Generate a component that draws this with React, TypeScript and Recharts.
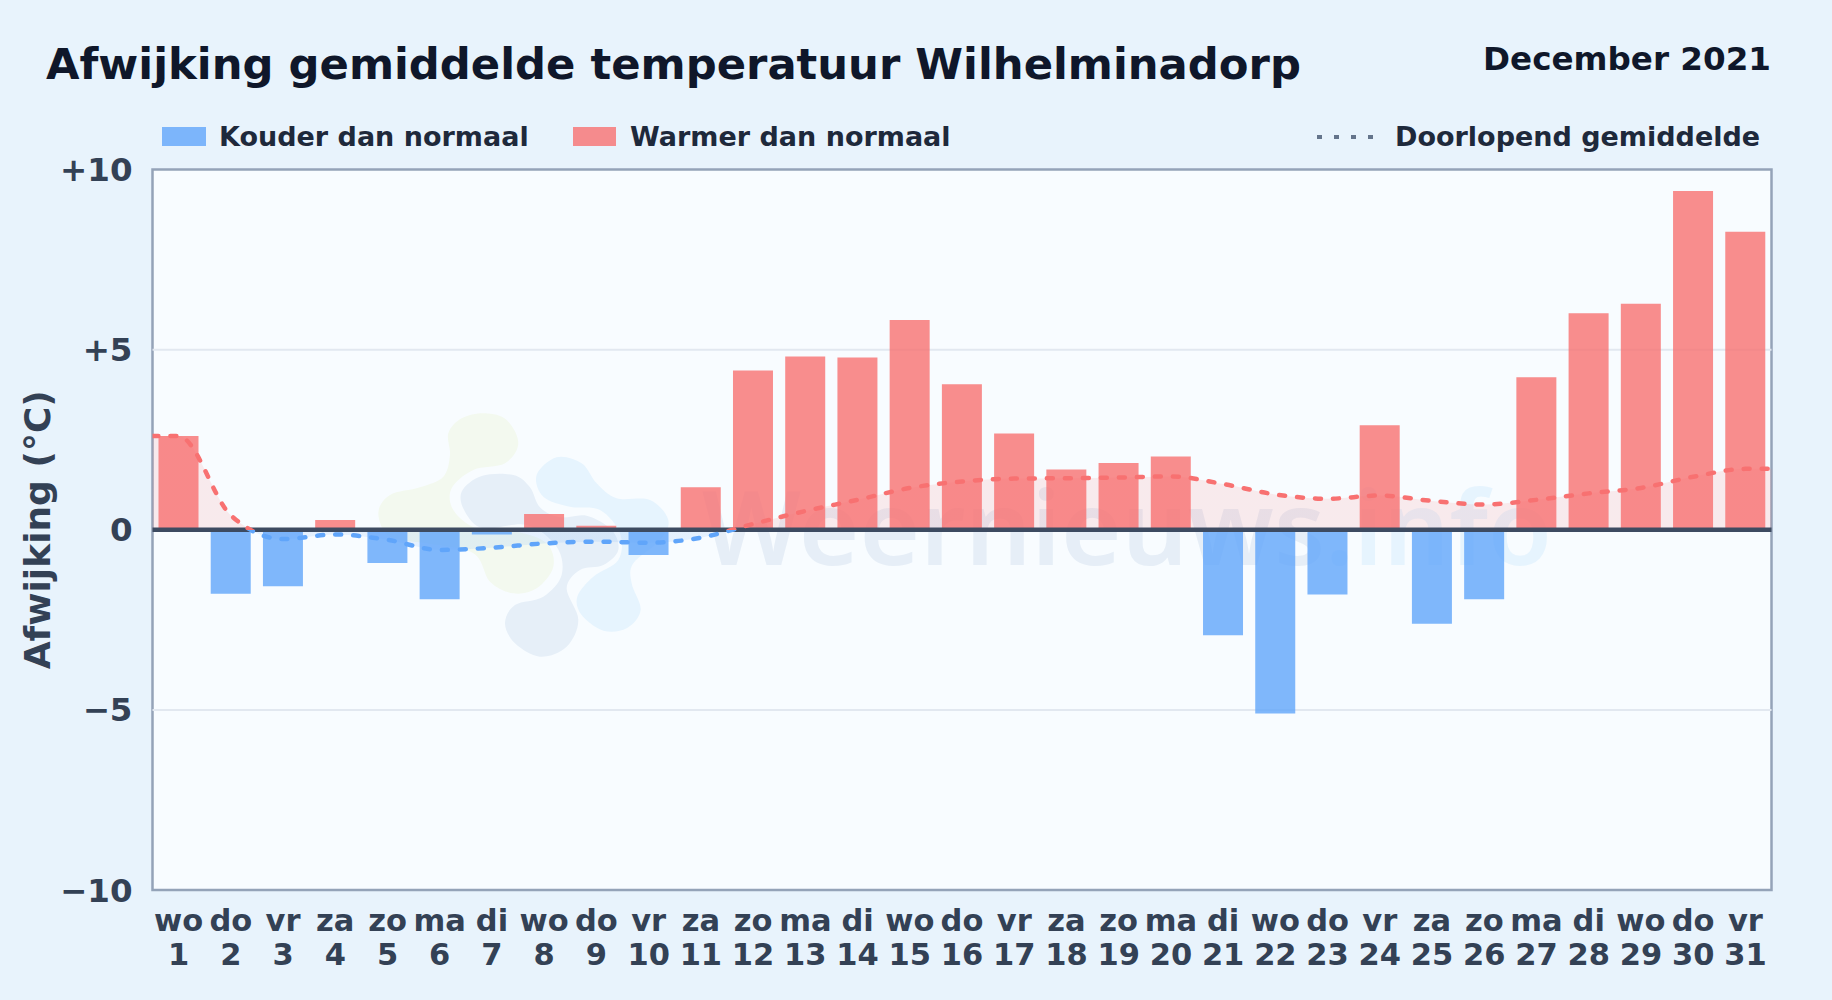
import React from 'react';
import {
  ComposedChart,
  Bar,
  Line,
  Area,
  Cell,
  XAxis,
  YAxis,
  CartesianGrid,
  ReferenceLine,
} from 'recharts';

const WEEKDAYS = [
  'wo', 'do', 'vr', 'za', 'zo', 'ma', 'di', 'wo', 'do', 'vr', 'za', 'zo', 'ma', 'di', 'wo', 'do',
  'vr', 'za', 'zo', 'ma', 'di', 'wo', 'do', 'vr', 'za', 'zo', 'ma', 'di', 'wo', 'do', 'vr',
];
const DAYS = [
  1, 2, 3, 4, 5, 6, 7, 8, 9, 10, 11, 12, 13, 14, 15, 16, 17, 18, 19, 20, 21, 22, 23, 24, 25, 26,
  27, 28, 29, 30, 31,
];
const DEVIATION = [
  2.6, -1.78, -1.57, 0.27, -0.92, -1.93, -0.13, 0.44, 0.11, -0.7, 1.18, 4.42, 4.81, 4.78, 5.82,
  4.04, 2.67, 1.67, 1.85, 2.03, -2.93, -5.1, -1.8, 2.9, -2.61, -1.93, 4.23, 6.01, 6.27, 9.4, 8.27,
];
const RUNNING_MEAN = [
  2.6, 0.4, -0.26, -0.13, -0.28, -0.56, -0.5, -0.38, -0.33, -0.36, -0.22, 0.16, 0.52, 0.83, 1.16,
  1.34, 1.42, 1.43, 1.45, 1.48, 1.27, 0.98, 0.86, 0.95, 0.8, 0.7, 0.83, 1.01, 1.16, 1.47, 1.69,
];
const Y_TICKS = [-10, -5, 0, 5, 10];

// the mean line runs on to both plot edges: one extra row each side, clipped by the axis domain
const rows = [
  { day: 0, mean: RUNNING_MEAN[0] },
  ...DAYS.map((day, i) => ({ day, dev: DEVIATION[i], mean: RUNNING_MEAN[i] })),
  { day: 32, mean: RUNNING_MEAN[30] },
];

const RED = '#f87171';
const BLUE = '#60a5fa';
const FONT = '"DejaVu Sans", sans-serif';

// red above zero, blue below: hard stop at the zero crossing of the mean line
const meanMax = Math.max(...RUNNING_MEAN);
const meanMin = Math.min(...RUNNING_MEAN);
const zeroAt = meanMax / (meanMax - meanMin);

const formatY = (v: number) => (v > 0 ? `+${v}` : v < 0 ? `\u2212${-v}` : '0');

function DayTick({ x, y, payload }: any) {
  const day = payload.value as number;
  return (
    <text x={x} textAnchor="middle" fontFamily={FONT} fontWeight={700} fontSize={30.5} fill="#334155">
      <tspan x={x} y={y + 33}>{WEEKDAYS[day - 1]}</tspan>
      <tspan x={x} y={y + 67}>{day}</tspan>
    </text>
  );
}

// closed smooth outline through the points (watermark logo only)
function blob(pts: number[][]) {
  const n = pts.length;
  let d = `M${pts[0][0]},${pts[0][1]}`;
  for (let i = 0; i < n; i++) {
    const [p0, p1, p2, p3] = [pts[(i + n - 1) % n], pts[i], pts[(i + 1) % n], pts[(i + 2) % n]];
    d += `C${p1[0] + (p2[0] - p0[0]) / 6},${p1[1] + (p2[1] - p0[1]) / 6} ${p2[0] - (p3[0] - p1[0]) / 6},${p2[1] - (p3[1] - p1[1]) / 6} ${p2[0]},${p2[1]}`;
  }
  return d + 'Z';
}

const LOGO_GREEN = [
  [235, 100], [275, 55], [345, 40], [410, 60], [445, 130], [405, 190], [310, 210], [245, 265],
  [250, 330], [320, 385], [440, 395], [530, 430], [550, 500], [500, 565], [430, 580], [360, 545],
  [310, 460], [170, 430], [60, 410], [25, 340], [60, 285], [150, 262], [220, 230], [240, 165],
];
const LOGO_SLATE = [
  [275, 275], [335, 228], [430, 225], [480, 262], [510, 322], [570, 352], [650, 347], [725, 390],
  [745, 450], [700, 495], [630, 510], [590, 565], [625, 660], [590, 740], [510, 770], [435, 730],
  [405, 670], [435, 615], [520, 590], [575, 525], [560, 440], [470, 375], [340, 385], [285, 335],
];
const LOGO_BLUE = [
  [500, 225], [560, 172], [635, 190], [680, 250], [740, 295], [840, 300], [895, 360], [870, 420],
  [790, 490], [785, 550], [812, 630], [770, 685], [700, 692], [635, 645], [622, 590], [670, 530],
  [745, 480], [750, 400], [690, 330], [600, 320], [520, 290],
];

function Backdrop() {
  const label = { fontFamily: FONT, fontWeight: 700, fontSize: 27, fill: '#1e293b' };
  return (
    <svg width={1832} height={1000} style={{ position: 'absolute', left: 0, top: 0 }}>
      <rect width={1832} height={1000} fill="#e8f3fc" />
      <text x={46} y={79} fontFamily={FONT} fontWeight={700} fontSize={43.3} fill="#0f172a">
        Afwijking gemiddelde temperatuur Wilhelminadorp
      </text>
      <text x={1771} y={70} textAnchor="end" fontFamily={FONT} fontWeight={700} fontSize={32.6} fill="#0f172a">
        December 2021
      </text>

      <rect x={162} y={127} width={44} height={19} fill={BLUE} fillOpacity={0.8} />
      <text x={219} y={146} {...label}>Kouder dan normaal</text>
      <rect x={573} y={127} width={43} height={19} fill={RED} fillOpacity={0.8} />
      <text x={630} y={146} {...label}>Warmer dan normaal</text>
      <line x1={1317} x2={1375} y1={137} y2={137} stroke="#64748b" strokeWidth={4} strokeDasharray="5 12" />
      <text x={1395} y={146} {...label}>Doorlopend gemiddelde</text>

      <rect x={152.5} y={169.5} width={1619} height={720.5} fill="#f8fcff" stroke="#94a3b8" strokeWidth={2.5} />
      <g transform="translate(370,400) scale(0.3333)">
        <path d={blob(LOGO_GREEN)} fill="#f3f9ef" />
        <path d={blob(LOGO_SLATE)} fill="#e6eff8" />
        <path d={blob(LOGO_BLUE)} fill="#e6f4fe" />
      </g>
      <text x={702} y={565} fontFamily="'Noto Sans', sans-serif" fontWeight={600} fontSize={103.8}>
        <tspan fill="#e6eef7">Weernieuws</tspan>
        <tspan fill="#e6f4fe">.info</tspan>
      </text>
    </svg>
  );
}

export default function App() {
  return (
    <div style={{ position: 'absolute', left: 0, top: 0, width: 1832, height: 1000, overflow: 'hidden' }}>
      <Backdrop />
      <div style={{ position: 'absolute', left: 0, top: 0 }}>
        <ComposedChart
          width={1832}
          height={1000}
          data={rows}
          margin={{ top: 169.5, right: 60.5, bottom: 10, left: 52.5 }}
        >
          <defs>
            <linearGradient id="meanStroke" x1="0" y1="0" x2="0" y2="1">
              <stop offset={zeroAt} stopColor={RED} />
              <stop offset={zeroAt} stopColor={BLUE} />
            </linearGradient>
          </defs>
          <CartesianGrid vertical={false} horizontalValues={[-5, 5]} stroke="#e2e8f0" strokeWidth={2} />
          <XAxis
            type="number"
            dataKey="day"
            domain={[0.5, 31.5]}
            allowDataOverflow
            ticks={DAYS}
            interval={0}
            height={100}
            axisLine={false}
            tickLine={false}
            tick={<DayTick />}
          />
          <YAxis
            type="number"
            domain={[-10, 10]}
            ticks={Y_TICKS}
            width={100}
            axisLine={false}
            tickLine={false}
            tickSize={0}
            tickMargin={20}
            tickFormatter={formatY}
            tick={{ fontFamily: FONT, fontWeight: 700, fontSize: 32.5, fill: '#334155' }}
            label={{
              value: 'Afwijking (°C)',
              angle: -90,
              position: 'insideLeft',
              offset: -15,
              style: { fontFamily: FONT, fontWeight: 700, fontSize: 36, fill: '#334155', textAnchor: 'middle' },
            }}
          />
          <Area
            type="monotone"
            dataKey="mean"
            stroke="none"
            fill="url(#meanStroke)"
            fillOpacity={0.13}
            isAnimationActive={false}
          />
          <Bar dataKey="dev" barSize={40} isAnimationActive={false}>
            {rows.map((r) => (
              <Cell key={r.day} fill={(r.dev ?? 0) < 0 ? BLUE : RED} fillOpacity={0.8} />
            ))}
          </Bar>
          <ReferenceLine y={0} stroke="#3d4b61" strokeWidth={4.5} />
          <Line
            type="monotone"
            dataKey="mean"
            stroke="url(#meanStroke)"
            strokeWidth={4.5}
            strokeLinecap="round"
            strokeDasharray="6 12"
            strokeDashoffset={10}
            dot={false}
            activeDot={false}
            isAnimationActive={false}
          />
        </ComposedChart>
      </div>
    </div>
  );
}
